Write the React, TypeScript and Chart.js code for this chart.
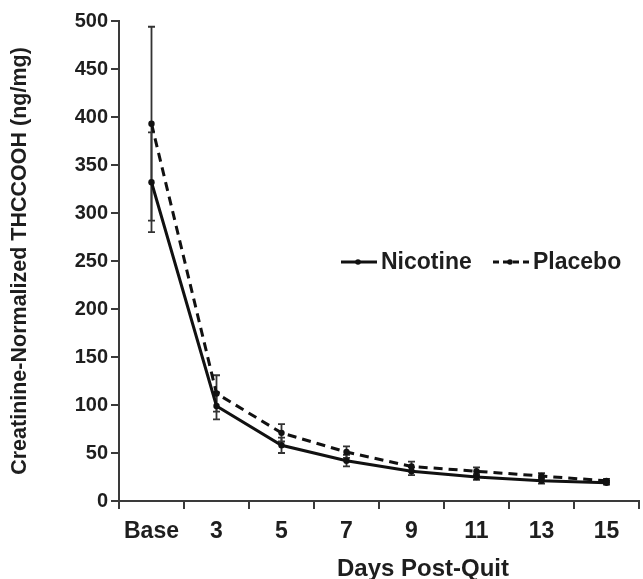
import React, { useEffect, useRef } from "react";
import { Chart, registerables } from "chart.js";

Chart.register(...registerables);

const categories = ["Base", "3", "5", "7", "9", "11", "13", "15"];
const nicotine = [332, 99, 58, 42, 31, 25, 21, 19];
const nicotineErr = [52, 14, 8, 6, 4, 3, 3, 2];
const placebo = [393, 112, 71, 51, 36, 31, 26, 21];
const placeboErr = [101, 19, 9, 6, 5, 4, 3, 2];
const yMin = 0;
const yMax = 500;
const yStep = 50;
const xTitle = "Days Post-Quit";
const yTitle = "Creatinine-Normalized THCCOOH (ng/mg)";
const seriesNames = ["Nicotine", "Placebo"];

const FONT = "'Liberation Sans', Arial, sans-serif";
const TEXT = "#1e1e1e";
const AXIS = "#3a3a3a";

const errors = [nicotineErr, placeboErr];

const errorBarPlugin = {
  id: "errorBars",
  beforeDatasetsDraw(chart: any) {
    const ctx = chart.ctx;
    const yScale = chart.scales.y;
    chart.data.datasets.forEach((ds: any, di: number) => {
      const meta = chart.getDatasetMeta(di);
      const errs = errors[di];
      meta.data.forEach((pt: any, i: number) => {
        const v = ds.data[i];
        const e = errs[i];
        const x = pt.x;
        const yt = yScale.getPixelForValue(v + e);
        const yb = yScale.getPixelForValue(v - e);
        ctx.save();
        ctx.strokeStyle = "#333";
        ctx.lineWidth = 1.8;
        ctx.setLineDash([]);
        ctx.beginPath();
        ctx.moveTo(x, yt);
        ctx.lineTo(x, yb);
        ctx.moveTo(x - 3.5, yt);
        ctx.lineTo(x + 3.5, yt);
        ctx.moveTo(x - 3.5, yb);
        ctx.lineTo(x + 3.5, yb);
        ctx.stroke();
        ctx.restore();
      });
    });
  },
};

const legendPlugin = {
  id: "customLegend",
  afterDraw(chart: any) {
    const ctx = chart.ctx;
    const area = chart.chartArea;
    const y = area.top + 241;
    const items = [
      { x: area.left + 222, dash: [] as number[], label: seriesNames[0] },
      { x: area.left + 374, dash: [6, 4], label: seriesNames[1] },
    ];
    ctx.save();
    items.forEach((it) => {
      ctx.strokeStyle = "#111";
      ctx.lineWidth = 3;
      ctx.setLineDash(it.dash);
      ctx.beginPath();
      ctx.moveTo(it.x, y);
      ctx.lineTo(it.x + 36, y);
      ctx.stroke();
      ctx.setLineDash([]);
      ctx.fillStyle = "#111";
      ctx.beginPath();
      ctx.arc(it.x + 17, y, 2.8, 0, Math.PI * 2);
      ctx.fill();
      ctx.fillStyle = TEXT;
      ctx.font = `bold 23px ${FONT}`;
      ctx.textBaseline = "middle";
      ctx.textAlign = "left";
      ctx.fillText(it.label, it.x + 40, y + 1);
    });
    // x-axis title (offset to the right as in the reference)
    ctx.font = `bold 24px ${FONT}`;
    ctx.textAlign = "center";
    ctx.textBaseline = "middle";
    ctx.fillStyle = TEXT;
    ctx.fillText(xTitle, area.left + 304, area.bottom + 68);
    ctx.restore();
  },
};

export default function App() {
  const ref = useRef<HTMLCanvasElement>(null);
  useEffect(() => {
    if (!ref.current) return;
    const chart = new Chart(ref.current, {
      type: "line",
      data: {
        labels: categories,
        datasets: [
          {
            label: seriesNames[0],
            data: nicotine,
            borderColor: "#111",
            backgroundColor: "#111",
            borderWidth: 3,
            pointRadius: 3.2,
            pointBackgroundColor: "#111",
            pointBorderWidth: 0,
            tension: 0,
          },
          {
            label: seriesNames[1],
            data: placebo,
            borderColor: "#111",
            backgroundColor: "#111",
            borderWidth: 3,
            borderDash: [9, 6],
            pointRadius: 3.2,
            pointBackgroundColor: "#111",
            pointBorderWidth: 0,
            tension: 0,
          },
        ],
      },
      options: {
        responsive: false,
        animation: false,
        devicePixelRatio: 1,
        layout: { padding: { top: 21, right: 2, bottom: 0, left: 0 } },
        plugins: {
          legend: { display: false },
          tooltip: { enabled: false },
        },
        scales: {
          x: {
            type: "category",
            offset: true,
            grid: {
              offset: true,
              drawOnChartArea: false,
              drawTicks: true,
              tickLength: 8,
              color: AXIS,
              lineWidth: 2,
            },
            border: { display: true, color: AXIS, width: 2 },
            ticks: {
              color: TEXT,
              font: { family: FONT, size: 23, weight: "bold" },
              padding: 9,
              maxRotation: 0,
              autoSkip: false,
            },
            title: { display: false },
            afterFit(scale: any) {
              scale.height = 78;
            },
          },
          y: {
            min: yMin,
            max: yMax,
            ticks: {
              stepSize: yStep,
              color: TEXT,
              font: { family: FONT, size: 20, weight: "bold" },
              padding: 3,
            },
            grid: {
              drawOnChartArea: false,
              drawTicks: true,
              tickLength: 8,
              color: AXIS,
              lineWidth: 2,
            },
            border: { display: true, color: AXIS, width: 2 },
            title: {
              display: true,
              text: yTitle,
              color: TEXT,
              font: { family: FONT, size: 21.5, weight: "bold" },
              padding: { top: 7, bottom: 0 },
            },
            afterFit(scale: any) {
              scale.width = 119;
            },
          },
        },
      },
      plugins: [errorBarPlugin, legendPlugin],
    } as any);
    return () => chart.destroy();
  }, []);
  return (
    <div style={{ position: "fixed", left: 0, top: 0, width: 643, height: 579, background: "#fff" }}>
      <canvas ref={ref} width={643} height={579} style={{ width: 643, height: 579 }} />
    </div>
  );
}
